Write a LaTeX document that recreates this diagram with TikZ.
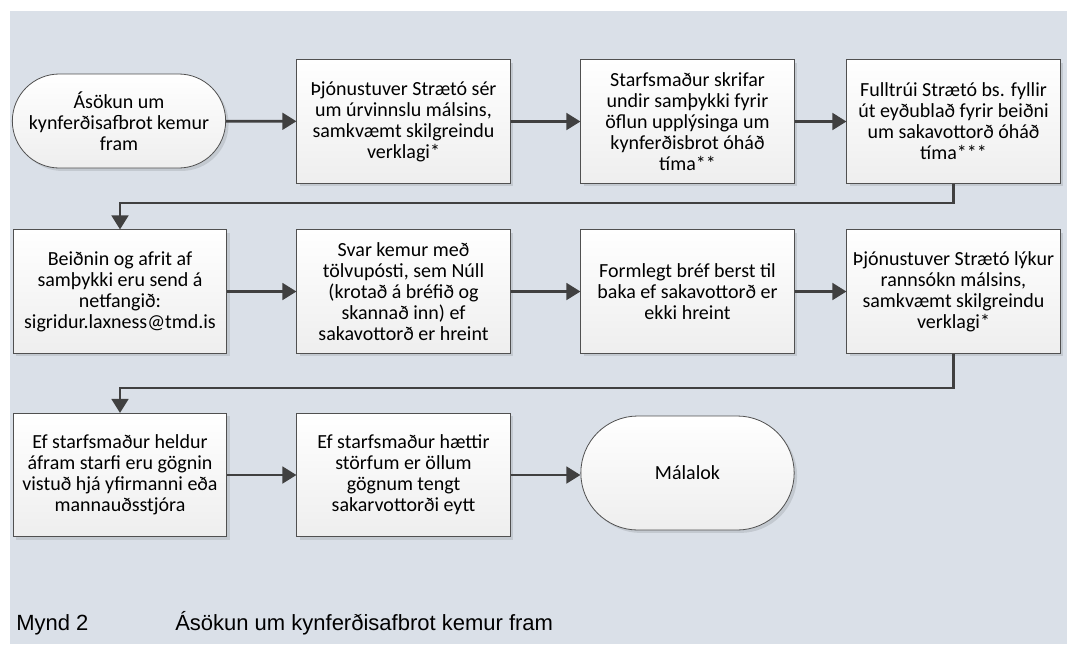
\documentclass[tikz,border=0pt]{standalone}
\usepackage{fontspec}
\setmainfont{Carlito}
\newfontfamily\captionfont{Liberation Sans}
\usetikzlibrary{arrows.meta, shadows}

\definecolor{bgBlue}{RGB}{218,224,232}
\definecolor{boxLine}{RGB}{80,80,80}
\definecolor{boxBottom}{RGB}{238,238,238}
\definecolor{arrowGray}{RGB}{64,64,64}

\tikzset{
  stepBox/.style={draw=boxLine, line width=.6pt, top color=white, bottom color=boxBottom,
    minimum width=160pt, minimum height=92.5pt, align=center, inner sep=2pt,
    font=\fontsize{15}{15.7}\selectfont,
    general shadow={fill=black, opacity=.1, shadow xshift=2.2pt, shadow yshift=-2.2pt}},
  termBox/.style={stepBox, rounded corners=35.25pt, minimum height=70.5pt},
  endBox/.style={stepBox, rounded corners=42.75pt, minimum height=85.5pt},
  flowArrow/.style={draw=arrowGray, line width=2pt, -{Triangle[length=10.5pt,width=12.5pt]}},
  capText/.style={anchor=base west, inner sep=0pt, font=\captionfont\fontsize{16.5}{18}\selectfont}
}

\begin{document}
\begin{tikzpicture}[x=0.75pt, y=-0.75pt]
  % page and backdrop
  \useasboundingbox (0,0) rectangle (1067,644);
  \fill[bgBlue] (10,11) rectangle (1067,644);

  % first row
  \node[termBox] (start) at (119,121)   {Ásökun um\\kynferðisafbrot kemur\\fram};
  \node[stepBox] (triage) at (403.5,121.5) {Þjónustuver Strætó sér\\um úrvinnslu málsins,\\samkvæmt skilgreindu\\verklagi*};
  \node[stepBox] (consent) at (687.5,121.5) {Starfsmaður skrifar\\undir samþykki fyrir\\öflun upplýsinga um\\kynferðisbrot óháð\\tíma**};
  \node[stepBox] (request) at (953.5,121.5) {Fulltrúi Strætó bs. fyllir\\út eyðublað fyrir beiðni\\um sakavottorð óháð\\tíma***};

  % second row
  \node[stepBox] (sendMail) at (120,291.5) {Beiðnin og afrit af\\samþykki eru send á\\netfangið:\\sigridur.laxness@tmd.is};
  \node[stepBox] (replyNull) at (403.5,291.5) {Svar kemur með\\tölvupósti, sem Núll\\(krotað á bréfið og\\skannað inn) ef\\sakavottorð er hreint};
  \node[stepBox] (formalLetter) at (687.5,291.5) {Formlegt bréf berst til\\baka ef sakavottorð er\\ekki hreint};
  \node[stepBox] (closeCase) at (953.5,291.5) {Þjónustuver Strætó lýkur\\rannsókn málsins,\\samkvæmt skilgreindu\\verklagi*};

  % third row
  \node[stepBox] (keepData) at (120,475) {Ef starfsmaður heldur\\áfram starfi eru gögnin\\vistuð hjá yfirmanni eða\\mannauðsstjóra};
  \node[stepBox] (deleteData) at (403.5,475) {Ef starfsmaður hættir\\störfum er öllum\\gögnum tengt\\sakarvottorði eytt};
  \node[endBox] (finish) at (687.5,473) {Málalok};

  % turning points
  \coordinate (turnA) at (953.5,203);
  \coordinate (turnB) at (953.5,388);

  % arrows
  \draw[flowArrow] (start) -- (triage);
  \draw[flowArrow] (triage) -- (consent);
  \draw[flowArrow] (consent) -- (request);
  \draw[flowArrow] (request.south) -- (turnA) -| (sendMail.north);
  \draw[flowArrow] (sendMail) -- (replyNull);
  \draw[flowArrow] (replyNull) -- (formalLetter);
  \draw[flowArrow] (formalLetter) -- (closeCase);
  \draw[flowArrow] (closeCase.south) -- (turnB) -| (keepData.north);
  \draw[flowArrow] (keepData) -- (deleteData);
  \draw[flowArrow] (deleteData.east) -- (deleteData.east -| finish.west);

  % caption
  \node[capText] (figNum) at (16,630) {Mynd 2};
  \node[capText] (figTitle) at (175,630) {Ásökun um kynferðisafbrot kemur fram};
\end{tikzpicture}
\end{document}
